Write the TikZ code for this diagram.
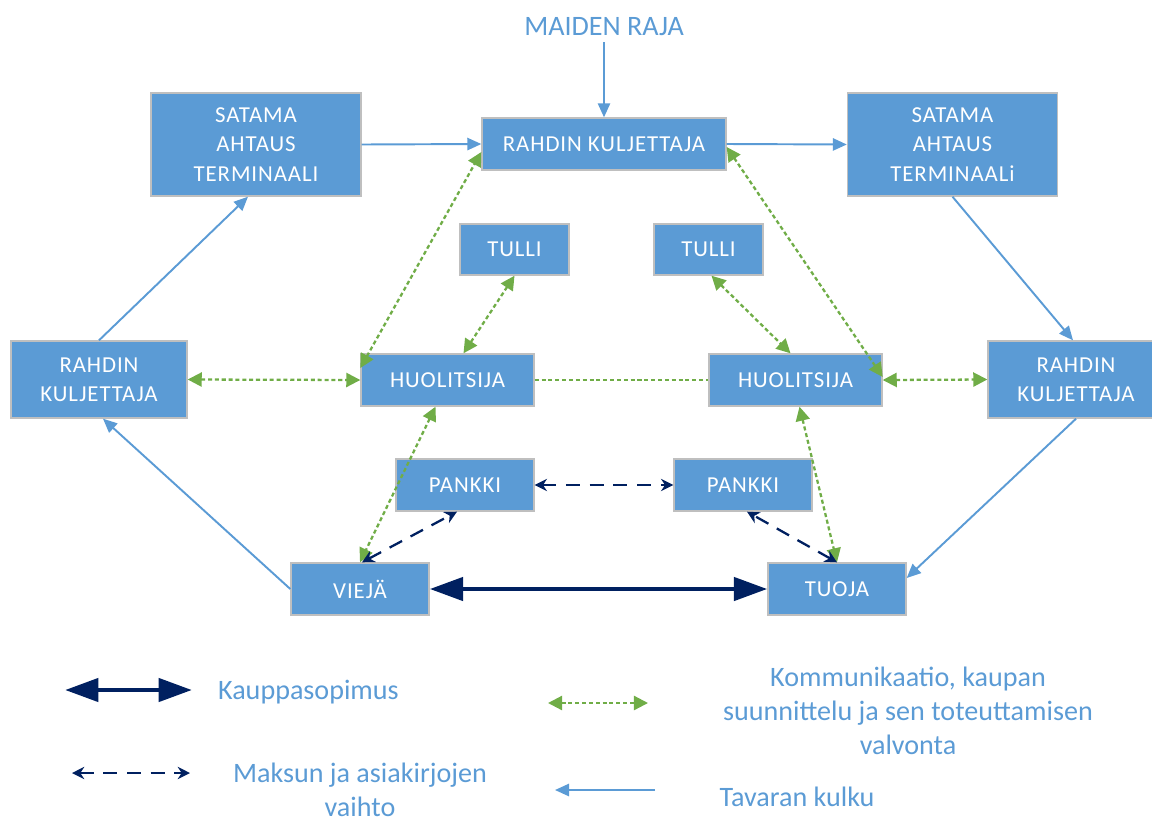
\documentclass[tikz,border=0pt]{standalone}
\usepackage{fontspec}
\setmainfont{Carlito}
\usetikzlibrary{arrows.meta, positioning, calc}
\definecolor{boxblue}{HTML}{5B9BD5}
\definecolor{navy}{HTML}{002060}
\definecolor{leafgreen}{HTML}{70AD47}
\definecolor{rimgray}{HTML}{BFBFBF}

\begin{document}
\begin{tikzpicture}[x=0.02cm, y=-0.02cm,
        box/.style={draw=rimgray, line width=0.8pt, fill=boxblue, text=white, align=center, inner sep=0pt, font=\fontsize{13}{16.6}\selectfont\addfontfeature{LetterSpace=4}},
        flow/.style={boxblue, line width=1.1pt, -{Triangle[length=8pt, width=7pt]}},
        comm/.style={leafgreen, line width=1.3pt, dash pattern=on 2.3pt off 1.6pt, {Triangle[length=8pt, width=8pt]}-{Triangle[length=8pt, width=8pt]}},
        pay/.style={navy, line width=1.3pt, dash pattern=on 8pt off 5.5pt, {Stealth[length=7pt, width=7pt]}-{Stealth[length=7pt, width=7pt]}},
        deal/.style={navy, line width=2.8pt, {Triangle[length=19pt, width=13pt]}-{Triangle[length=19pt, width=13pt]}},
        legend/.style={text=boxblue, align=center, inner sep=1pt, font=\fontsize{16}{19.5}\selectfont}
    ]
    \useasboundingbox (0,0) rectangle (1152,822);

    % Top row
    \node[text=boxblue, font=\fontsize{16}{20}\selectfont] (maiden) at (604,27) {MAIDEN RAJA};
    \node[box, minimum width=4.2cm, minimum height=2.06cm] (satL) at (256,144.5) {SATAMA\\AHTAUS\\TERMINAALI};
    \node[box, minimum width=4.88cm, minimum height=1.04cm] (rahT) at (604,144) {RAHDIN KULJETTAJA};
    \node[box, minimum width=4.2cm, minimum height=2.06cm] (satR) at (952.5,144.5) {SATAMA\\AHTAUS\\TERMINAALi};

    % Middle row
    \node[box, minimum width=2.18cm, minimum height=1.02cm] (tulL) at (514.5,249.5) {TULLI};
    \node[box, minimum width=2.18cm, minimum height=1.02cm] (tulR) at (708.5,249.5) {TULLI};
    \node[box, minimum width=3.52cm, minimum height=1.54cm] (rahL) at (99,379.5) {RAHDIN\\KULJETTAJA};
    \node[box, minimum width=3.46cm, minimum height=1.04cm] (huoL) at (447.5,380) {HUOLITSIJA};
    \node[box, minimum width=3.46cm, minimum height=1.04cm] (huoR) at (795.5,380) {HUOLITSIJA};
    \node[box, minimum width=3.52cm, minimum height=1.54cm] (rahR) at (1076,379.5) {RAHDIN\\KULJETTAJA};

    % Bottom rows
    \node[box, minimum width=2.76cm, minimum height=1.04cm] (pankL) at (465,485) {PANKKI};
    \node[box, minimum width=2.76cm, minimum height=1.04cm] (pankR) at (743,485) {PANKKI};
    \node[box, minimum width=2.76cm, minimum height=1.04cm] (viejä) at (360,589) {VIEJÄ};
    \node[box, minimum width=2.76cm, minimum height=1.04cm] (tuoja) at (837,589) {TUOJA};

    % Goods flow
    \draw[flow] (maiden.south) -- (rahT.north);
    \draw[flow] (satL.east) -- (rahT.west);
    \draw[flow] (rahT.east) -- (satR.west);
    \draw[flow] (satR.south) -- ($(rahR.north)+(-3,0)$);
    \draw[flow] (rahR.south) -- ($(tuoja.east)+(0,-11)$);
    \draw[flow] (viejä.west) -- ($(rahL.south)+(4,0)$);
    \draw[flow] (rahL.north) -- ($(satL.south)+(-8,0)$);

    % Communication
    \draw[comm] (rahL.east) -- (huoL.west);
    \draw[comm] ($(huoL.west)+(0,-12)$) -- ($(rahT.west)+(0,8)$);
    \draw[comm] (tulL.south) -- ($(huoL.north)+(16,0)$);
    \draw[comm] ($(huoL.south)+(-12,0)$) -- (viejä.north);
    \draw[leafgreen, line width=1.3pt, dash pattern=on 2.3pt off 1.6pt] (huoL.east) -- (huoR.west);
    \draw[comm] ($(tulR.south)+(3,0)$) -- ($(huoR.north)+(-5,0)$);
    \draw[comm] ($(rahT.east)+(0,3)$) -- ($(huoR.east)+(0,-3)$);
    \draw[comm] (huoR.east) -- (rahR.west);
    \draw[comm] ($(huoR.south)+(4,0)$) -- (tuoja.north);

    % Payment and documents
    \draw[pay] (pankL.east) -- (pankR.west);
    \draw[pay] ($(viejä.north)+(2,0)$) -- ($(pankL.south)+(-8,0)$);
    \draw[pay] (tuoja.north) -- ($(pankR.south)+(4,0)$);

    % Trade contract
    \draw[deal] (viejä.east) -- (tuoja.west);

    % Legend
    \coordinate (k1) at (65,690);
    \coordinate (k2) at (192,690);
    \draw[deal] (k1) -- (k2);
    \node[legend, anchor=west] (kauppa) at (216,692) {Kauppasopimus};
    \coordinate (m1) at (72,773);
    \coordinate (m2) at (190,773);
    \draw[pay] (m1) -- (m2);
    \node[legend] (maksu) at (360,790) {Maksun ja asiakirjojen\\vaihto};
    \coordinate (c1) at (548,703);
    \coordinate (c2) at (648,703);
    \draw[comm] (c1) -- (c2);
    \node[legend] (kommu) at (908,711) {Kommunikaatio, kaupan\\suunnittelu ja sen toteuttamisen\\valvonta};
    \coordinate (t1) at (655,790);
    \coordinate (t2) at (555,790);
    \draw[flow] (t1) -- (t2);
    \node[legend] (tavara) at (797,797) {Tavaran kulku};

\end{tikzpicture}
\end{document}
